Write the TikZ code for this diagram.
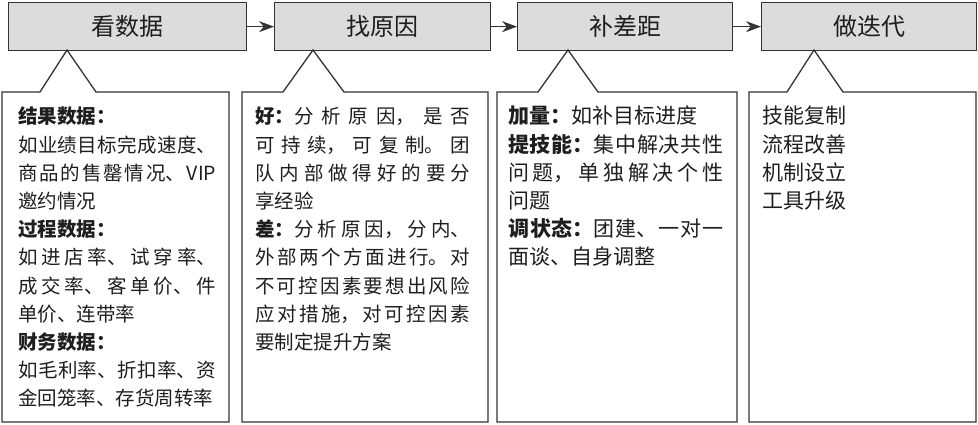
\documentclass[tikz,border=0pt]{standalone}
\usepackage{fontspec}
\newfontfamily\cjk{Noto Sans CJK SC}
\usetikzlibrary{arrows.meta}
\definecolor{boxgray}{HTML}{DCDCDC}
\definecolor{linec}{HTML}{333333}
\definecolor{txt}{HTML}{1E1E1E}
\XeTeXlinebreaklocale "zh"
\XeTeXlinebreakskip=0pt plus 3pt
\newcommand\bodysetup{\parindent=0pt\parskip=0pt\tolerance=10000\relax}
\begin{document}
\begin{tikzpicture}[x=1pt,y=-1pt,
  head/.style={draw=linec, line width=1.3pt, fill=boxgray, minimum height=48pt,
    anchor=north west, inner sep=0pt, text=txt, font=\fontsize{24}{28}\selectfont\cjk},
  flow/.style={-{Stealth[length=15pt,width=11pt]}, draw=linec, line width=1.3pt},
  callout/.style={draw=linec, line width=1.3pt, line join=miter},
  body/.style={anchor=north west, inner sep=0pt, align=justify, text=txt,
    font=\fontsize{19.5}{28.2}\selectfont\cjk},
  bodybig/.style={body, font=\fontsize{21}{28.2}\selectfont\cjk}
]
\useasboundingbox (0,0) rectangle (978,425);
% header boxes
\node[head, minimum width=238pt] (h1) at (8,2) {看数据};
\node[head, minimum width=216pt] (h2) at (274,2) {找原因};
\node[head, minimum width=215pt] (h3) at (517,2) {补差距};
\node[head, minimum width=215pt] (h4) at (761,2) {做迭代};
\draw[flow] (h1.east) -- (h2.west);
\draw[flow] (h2.east) -- (h3.west);
\draw[flow] (h3.east) -- (h4.west);
% callout apexes
\coordinate (a1) at (67,50);
\coordinate (a2) at (313,50);
\coordinate (a3) at (568,50);
\coordinate (a4) at (814,50);
\draw[callout] (2,92) -- (40,92) -- (a1) -- (96,92) -- (229,92) -- (229,422) -- (2,422) -- cycle;
\draw[callout] (242,92) -- (283,92) -- (a2) -- (344,92) -- (488,92) -- (488,422) -- (242,422) -- cycle;
\draw[callout] (497,92) -- (538,92) -- (a3) -- (598,92) -- (737,92) -- (737,422) -- (497,422) -- cycle;
\draw[callout] (749,92) -- (787,92) -- (a4) -- (843,92) -- (976,92) -- (976,422) -- (749,422) -- cycle;
% texts
\node[body, text width=198pt] (t1) at (18,107) {\bodysetup
\textbf{结果数据：}\par
如业绩目标完成速度、\linebreak
商品的售罄情况、VIP\linebreak
邀约情况\par
\textbf{过程数据：}\par
如进店率、试穿率、\linebreak
成交率、客单价、件\linebreak
单价、连带率\par
\textbf{财务数据：}\par
如毛利率、折扣率、资\linebreak
金回笼率、存货周转率};
\node[body, text width=215pt] (t2) at (255,107) {\bodysetup
\textbf{好：}分析原因，是否\linebreak
可持续，可复制。团\linebreak
队内部做得好的要分\linebreak
享经验\par
\textbf{差：}分析原因，分内、\linebreak
外部两个方面进行。对\linebreak
不可控因素要想出风险\linebreak
应对措施，对可控因素\linebreak
要制定提升方案};
\node[bodybig, text width=215pt] (t3) at (508,106) {\bodysetup
\textbf{加量：}如补目标进度\par
\textbf{提技能：}集中解决共性\linebreak
问题，单独解决个性\linebreak
问题\par
\textbf{调状态：}团建、一对一\linebreak
面谈、自身调整};
\node[bodybig, text width=180pt] (t4) at (762,106) {\bodysetup
技能复制\par
流程改善\par
机制设立\par
工具升级};
\end{tikzpicture}
\end{document}
